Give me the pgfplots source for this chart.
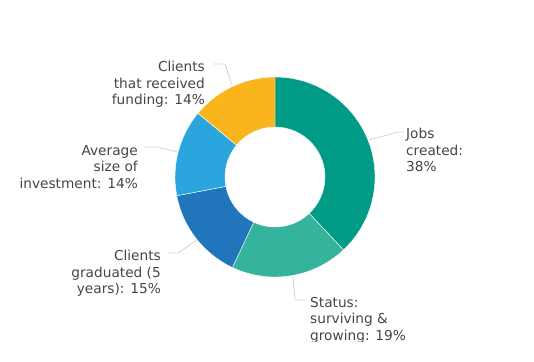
\documentclass[border=0pt]{standalone}
\usepackage{pgfplots}
\usepackage{pgfplotstable}
\pgfplotsset{compat=1.18}
\usepackage{fontspec}
\setmainfont{DejaVu Sans}
\definecolor{c1}{HTML}{009B85}
\definecolor{c2}{HTML}{36B39C}
\definecolor{c3}{HTML}{2175BA}
\definecolor{c4}{HTML}{2BA5DE}
\definecolor{c5}{HTML}{F9B51B}
\definecolor{lbl}{HTML}{454545}
\definecolor{lead}{HTML}{D4D4D4}
\tikzset{lab/.style={font=\fontsize{13.7bp}{16.5bp}\selectfont,text=lbl,inner sep=0pt}}
\pgfplotstableread{
value color
38 c1
19 c2
15 c3
14 c4
14 c5
}\data
\begin{document}
\begin{tikzpicture}
\begin{axis}[x=1bp,y=1bp,xmin=0,xmax=534,ymin=0,ymax=361,hide axis,
  scale only axis,clip=false]
\path (axis cs:0,0) rectangle (axis cs:534,361);
\begin{scope}
\clip (axis cs:0,20) rectangle (axis cs:534,361);
\pgfplotstablegetrowsof{\data}
\pgfmathtruncatemacro\N{\pgfplotsretval-1}
\def\cum{0}
\pgfplotsforeachungrouped \i in {0,...,\N}{%
  \pgfplotstablegetelem{\i}{value}\of\data \let\v\pgfplotsretval
  \pgfplotstablegetelem{\i}{color}\of\data \let\c\pgfplotsretval
  \pgfmathsetmacro\aone{90-3.6*\cum}%
  \pgfmathsetmacro\cum{\cum+\v}%
  \pgfmathsetmacro\atwo{90-3.6*\cum}%
  \edef\temp{\noexpand\fill[\c,draw=white,line width=0.4bp] ([shift={(\aone:100bp)}]axis cs:275,184) arc[start angle=\aone,end angle=\atwo,radius=100bp] -- ([shift={(\atwo:50bp)}]axis cs:275,184) arc[start angle=\atwo,end angle=\aone,radius=50bp] -- cycle;}%
  \temp
}
% leader lines
\draw[lead,line width=0.8bp] (axis cs:369,221) -- (axis cs:398,229) -- (axis cs:403,229);
\draw[lead,line width=0.8bp] (axis cs:293,84) -- (axis cs:295,61) -- (axis cs:305,61);
\draw[lead,line width=0.8bp] (axis cs:197,121) -- (axis cs:178,108) -- (axis cs:167,108);
\draw[lead,line width=0.8bp] (axis cs:177,209) -- (axis cs:158,214) -- (axis cs:145,214);
\draw[lead,line width=0.8bp] (axis cs:232,276) -- (axis cs:225,297) -- (axis cs:213,297);
% labels
\node[lab,anchor=north west,align=left] at (axis cs:406,233) {Jobs\\created:\\38\%};
\node[lab,anchor=north west,align=left] at (axis cs:310,64) {Status:\\surviving \&\\growing: 19\%};
\node[lab,anchor=north east,align=right] at (axis cs:161,111) {Clients\\graduated (5\\years): 15\%};
\node[lab,anchor=north east,align=right] at (axis cs:138,216) {Average\\size of\\investment: 14\%};
\node[lab,anchor=north east,align=right] at (axis cs:205,300) {Clients\\that received\\funding: 14\%};
\end{scope}
\end{axis}
\end{tikzpicture}
\end{document}
